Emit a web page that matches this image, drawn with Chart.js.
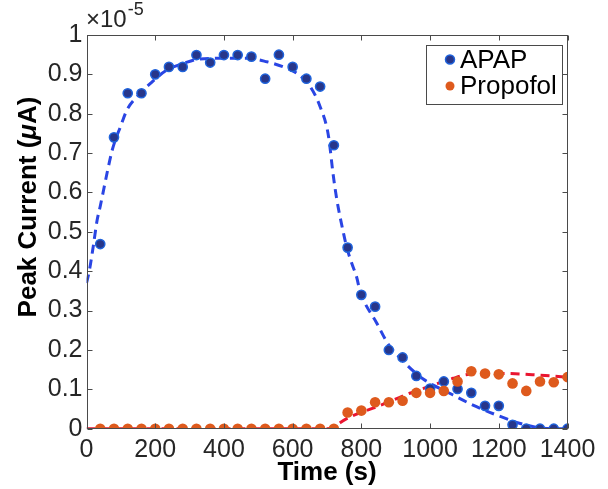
<!DOCTYPE html>
<html><head><meta charset="utf-8">
<script src="https://cdn.jsdelivr.net/npm/chart.js@4.4.0/dist/chart.umd.min.js"></script>
<style>html,body{margin:0;padding:0;background:#fff}canvas{display:block}</style>
</head><body>
<canvas id="c" width="608" height="489"></canvas>
<script>
// Peak current values are shown in units of 1e-5 (axis multiplier "×10^-5")
const timeS = [40,80,120,160,200,240,280,320,360,400,440,480,520,560,600,640,680,720,760,800,840,880,920,960,1000,1040,1080,1120,1160,1200,1240,1280,1320,1360,1400];
const apap = [0.469,0.740,0.852,0.852,0.900,0.919,0.919,0.949,0.930,0.949,0.949,0.945,0.889,0.950,0.919,0.889,0.869,0.720,0.460,0.340,0.310,0.200,0.181,0.134,0.102,0.120,0.101,0.091,0.058,0.058,0.010,0,0,0,0];
const propofol = [0,0,0,0,0,0,0,0,0,0,0,0,0,0,0,0,0,0,0.041,0.046,0.067,0.067,0.071,0.091,0.091,0.096,0.120,0.146,0.140,0.138,0.115,0.096,0.120,0.118,0.131];

const fitApapT = [0,8,20,31,40,60,75,100,118,147,186,234,283,321,400,467,525,573,612,651,680,704,718,728,738,746,757,772,786,796,845,878,907,931,980,1057,1125,1193,1260,1319,1360,1400];
const fitApapV = [0.37,0.40,0.465,0.53,0.565,0.65,0.708,0.77,0.81,0.843,0.877,0.911,0.928,0.938,0.941,0.941,0.932,0.919,0.903,0.869,0.818,0.745,0.645,0.585,0.538,0.505,0.462,0.420,0.386,0.350,0.268,0.215,0.185,0.163,0.126,0.090,0.060,0.035,0.014,0.002,0,0];
const fitPropT = [0,200,400,600,700,720,738,767,834,893,941,1009,1067,1105,1160,1222,1319,1400];
const fitPropV = [0,0,0,0,0,0.003,0.015,0.030,0.052,0.073,0.090,0.111,0.128,0.137,0.140,0.140,0.136,0.131];

const xTicks = [0,200,400,600,800,1000,1200,1400];
const yTicks = [0,0.1,0.2,0.3,0.4,0.5,0.6,0.7,0.8,0.9,1];
const seriesNames = ['APAP','Propofol'];
const xTitle = 'Time (s)';
const yTitleParts = ['Peak Current (', 'μ', 'A)'];
const multiplier = ['×10', '-5'];

const FF = '"Liberation Sans", Arial, Helvetica, sans-serif';
const AX = '#262626';
const C = {
  apapFill: '#27368a', apapEdge: '#1f63dc',
  prop: '#de5a1d',
  apapLine: '#2a45e4', propLine: '#ea1530'
};

const pts = (xs, ys) => xs.map((x, i) => ({x, y: ys[i]}));

const boxPlugin = {
  id: 'matlabBox',
  afterDatasetsDraw(chart) {
    const {ctx, chartArea: a, scales: {x, y}} = chart;
    ctx.save();
    ctx.strokeStyle = '#4a4a4a';
    ctx.lineWidth = 1;
    const L = Math.round(a.left) + 0.5, R = Math.round(a.right) - 0.5;
    const T = Math.round(a.top) + 0.5, B = Math.round(a.bottom) - 0.5;
    ctx.strokeRect(L, T, R - L, B - T);
    const tl = 5;
    ctx.beginPath();
    x.ticks.forEach(t => {
      const px = Math.round(x.getPixelForValue(t.value)) + 0.5;
      ctx.moveTo(px, B); ctx.lineTo(px, B - tl);
      ctx.moveTo(px, T); ctx.lineTo(px, T + tl);
    });
    y.ticks.forEach(t => {
      const py = Math.round(y.getPixelForValue(t.value)) + 0.5;
      ctx.moveTo(L, py); ctx.lineTo(L + tl, py);
      ctx.moveTo(R, py); ctx.lineTo(R - tl, py);
    });
    ctx.stroke();

    // legend
    const lx = 426.5, ly = 45.5, lw = 136, lh = 59;
    ctx.fillStyle = '#fff';
    ctx.fillRect(lx, ly, lw, lh);
    ctx.strokeStyle = '#4a4a4a';
    ctx.strokeRect(lx, ly, lw, lh);
    const rows = [59.5, 86];
    const dsets = chart.data.datasets.filter(d => d.isSeries);
    dsets.forEach((d, i) => {
      ctx.beginPath();
      ctx.arc(450, rows[i], 4.5, 0, Math.PI * 2);
      ctx.fillStyle = d.backgroundColor;
      ctx.fill();
      if (d.borderWidth) { ctx.lineWidth = 1.5; ctx.strokeStyle = d.borderColor; ctx.stroke(); }
      ctx.fillStyle = '#000';
      ctx.font = '26px ' + FF;
      ctx.textBaseline = 'middle';
      ctx.textAlign = 'left';
      ctx.fillText(d.label, 460, rows[i] + 1);
    });

    // exponent label
    ctx.fillStyle = AX;
    ctx.textBaseline = 'alphabetic';
    ctx.font = '24px ' + FF;
    ctx.fillText(multiplier[0], 86, 27);
    const w = ctx.measureText(multiplier[0]).width;
    ctx.font = '18px ' + FF;
    ctx.fillText(multiplier[1], 86 + w + 1, 15);

    // y title with italic mu
    const fonts = ['bold 26px ' + FF, 'italic bold 26px ' + FF, 'bold 26px ' + FF];
    let total = 0;
    const ws = yTitleParts.map((s, i) => { ctx.font = fonts[i]; const m = ctx.measureText(s).width; total += m; return m; });
    ctx.translate(36, 207);
    ctx.rotate(-Math.PI / 2);
    ctx.fillStyle = '#000';
    let cx = -total / 2;
    yTitleParts.forEach((s, i) => { ctx.font = fonts[i]; ctx.fillText(s, cx, 0); cx += ws[i]; });
    ctx.restore();
  }
};

new Chart(document.getElementById('c'), {
  type: 'scatter',
  data: {
    datasets: [
      { label: 'APAP fit', data: pts(fitApapT, fitApapV), showLine: true, borderColor: C.apapLine, borderWidth: 3, borderDash: [9, 6], pointRadius: 0, cubicInterpolationMode: 'monotone', order: 10 },
      { label: 'Propofol fit', data: pts(fitPropT, fitPropV), showLine: true, borderColor: C.propLine, borderWidth: 3, borderDash: [9, 6], pointRadius: 0, cubicInterpolationMode: 'monotone', order: 9 },
      { label: seriesNames[0], isSeries: true, data: pts(timeS, apap), backgroundColor: C.apapFill, borderColor: C.apapEdge, borderWidth: 1.5, pointRadius: 4.6, order: 2 },
      { label: seriesNames[1], isSeries: true, data: pts(timeS, propofol), backgroundColor: C.prop, borderColor: C.prop, borderWidth: 0, pointRadius: 5.3, order: 1 }
    ]
  },
  options: {
    responsive: false,
    devicePixelRatio: 1,
    animation: false,
    layout: { padding: { left: 0, top: 35, right: 40.5, bottom: 0 } },
    plugins: { legend: { display: false }, tooltip: { enabled: false } },
    scales: {
      x: {
        type: 'linear', min: 0, max: 1400,
        afterBuildTicks: s => { s.ticks = xTicks.map(v => ({value: v})); },
        afterFit: s => { s.height = 60.3; },
        grid: { display: false, drawTicks: false },
        border: { display: false },
        ticks: { padding: 6, color: AX, font: { family: FF, size: 25 }, maxRotation: 0, autoSkip: false, callback: v => String(v) },
        title: { display: true, text: xTitle, color: '#000', font: { family: FF, size: 26, weight: 'bold' }, padding: { top: 0, bottom: 1 } }
      },
      y: {
        type: 'linear', min: 0, max: 1,
        afterBuildTicks: s => { s.ticks = yTicks.map(v => ({value: v})); },
        afterFit: s => { s.width = 86.5; },
        grid: { display: false, drawTicks: false },
        border: { display: false },
        ticks: { padding: 4, color: AX, font: { family: FF, size: 25 }, autoSkip: false, callback: v => (v === 0 || v === 1) ? String(v) : v.toFixed(1) }
      }
    }
  },
  plugins: [boxPlugin]
});
</script>
</body></html>
